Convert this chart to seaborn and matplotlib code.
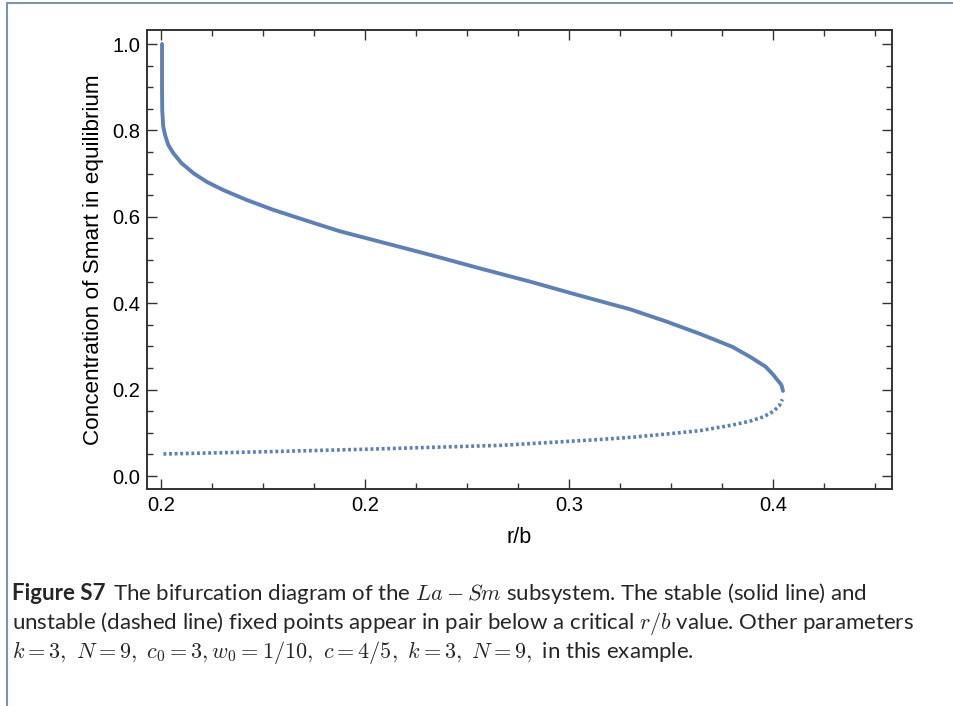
import matplotlib
matplotlib.use("Agg")
import matplotlib.pyplot as plt
import seaborn as sns
import pandas as pd
from matplotlib.ticker import FixedLocator, MultipleLocator
from matplotlib.patches import Rectangle

# ---- data ----
stable_x = [0.1005, 0.1005, 0.1006, 0.1011, 0.1020, 0.1036, 0.1061, 0.1101, 0.1159, 0.1224,
            0.1305, 0.1420, 0.1551, 0.1714, 0.1800, 0.1877, 0.2319, 0.2560, 0.2809, 0.3050,
            0.3299, 0.3475, 0.3642, 0.3801, 0.3887, 0.3964, 0.4000, 0.4041, 0.4049]
stable_y = [1.000, 0.900, 0.847, 0.809, 0.789, 0.766, 0.747, 0.724, 0.701, 0.681,
            0.662, 0.639, 0.616, 0.591, 0.578, 0.5665, 0.512, 0.481, 0.450, 0.418,
            0.386, 0.358, 0.329, 0.299, 0.276, 0.253, 0.235, 0.211, 0.197]
unstable_x = [0.1012, 0.1500, 0.2011, 0.2667, 0.3152, 0.3315, 0.3475, 0.3642, 0.3801,
              0.3887, 0.3953, 0.4000, 0.4030, 0.4046]
unstable_y = [0.051, 0.056, 0.062, 0.071, 0.0845, 0.090, 0.097, 0.105, 0.118,
              0.127, 0.137, 0.149, 0.162, 0.1775]
x_ticks = [0.1, 0.2, 0.3, 0.4]
x_tick_labels = ["0.2", "0.2", "0.3", "0.4"]
y_ticks = [0.0, 0.2, 0.4, 0.6, 0.8, 1.0]
y_tick_labels = ["0.0", "0.2", "0.4", "0.6", "0.8", "1.0"]
x_label = "r/b"
y_label = "Concentration of Smart in equilibrium"

sns.set_theme(style="white")
plt.rcParams["font.family"] = ["Liberation Sans", "DejaVu Sans"]
plt.rcParams["mathtext.fontset"] = "cm"

color = "#5E81B5"

fig = plt.figure(figsize=(9.54, 7.06), dpi=100)
ax = fig.add_axes([147 / 954, 1 - 489 / 706, (892 - 147) / 954, (489 - 30) / 706])

df_s = pd.DataFrame({"x": stable_x, "y": stable_y})
df_u = pd.DataFrame({"x": unstable_x, "y": unstable_y})
sns.lineplot(data=df_s, x="x", y="y", sort=False, estimator=None, ax=ax,
             color=color, linewidth=2.8)
sns.lineplot(data=df_u, x="x", y="y", sort=False, estimator=None, ax=ax,
             color=color, linewidth=2.6)
ax.lines[0].set_solid_joinstyle("round")
ax.lines[1].set_dashes([0.8, 0.75])
ax.lines[1].set_dash_capstyle("butt")

ax.set_xlim(0.1 - 14 / 2040, 0.4 + 119 / 2040)
ax.set_ylim(-13 / 432, 1.0 + 14 / 432)

ax.xaxis.set_major_locator(FixedLocator(x_ticks))
ax.set_xticklabels(x_tick_labels)
ax.xaxis.set_minor_locator(MultipleLocator(0.025))
ax.yaxis.set_major_locator(FixedLocator(y_ticks))
ax.set_yticklabels(y_tick_labels)
ax.yaxis.set_minor_locator(MultipleLocator(0.05))

ax.tick_params(which="both", direction="in", top=True, right=True, bottom=True, left=True,
               color="#333333", width=1.0, labelsize=14.5, labelcolor="black", pad=5)
ax.tick_params(which="major", length=7)
ax.tick_params(which="minor", length=4)
for s in ax.spines.values():
    s.set_color("#333333")
    s.set_linewidth(1.4)

ax.set_xlabel(x_label, fontsize=15.5, labelpad=9, color="black")
ax.set_ylabel(y_label, fontsize=16.2, labelpad=6, color="black")

# figure frame
fig.patches.append(Rectangle((7 / 954, -0.1), 1.2, 1 - 3 / 706 + 0.1, transform=fig.transFigure,
                             fill=False, edgecolor="#7f93ab", linewidth=1.5))

# caption
cap_font = ["Lato", "DejaVu Sans"]
fs = 16
y1 = 1 - 600 / 706
t = fig.text(12 / 954, y1, "Figure S7", fontsize=fs, fontweight="bold", family=cap_font,
             va="baseline")
fig.canvas.draw()
bb = t.get_window_extent()
fig.text((bb.x1 + 8) / 954, y1,
         r"The bifurcation diagram of the $La-Sm$ subsystem. The stable (solid line) and",
         fontsize=fs, family=cap_font, va="baseline")
fig.text(12 / 954, 1 - 629 / 706,
         r"unstable (dashed line) fixed points appear in pair below a critical $r/b$ value. Other parameters",
         fontsize=fs, family=cap_font, va="baseline")
fig.text(12 / 954, 1 - 658 / 706,
         r"$k=3,\ N=9,\ c_0=3, w_0=1/10,\ c=4/5,\ k=3,\ N=9,$ in this example.",
         fontsize=fs, family=cap_font, va="baseline")

fig.savefig("out.png", dpi=100)
